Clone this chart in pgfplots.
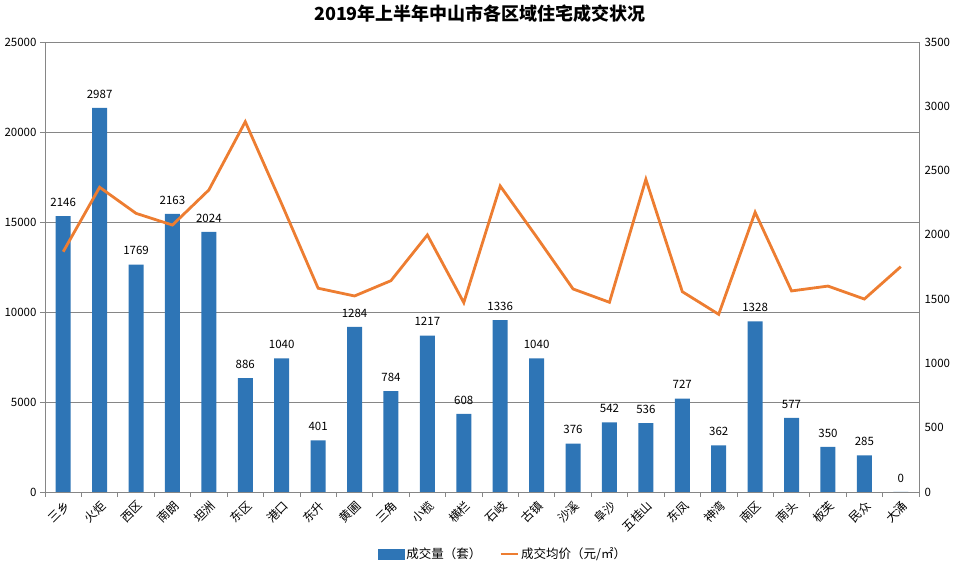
\documentclass[border=0pt]{standalone}
\usepackage{fontspec}
\setmainfont{Noto Sans CJK SC}
\usepackage{pgfplots}
\usepackage{pgfplotstable}
\pgfplotsset{compat=1.18}

\definecolor{barblue}{RGB}{46,117,182}
\definecolor{lineorange}{RGB}{237,125,49}
\definecolor{axisgray}{RGB}{134,134,134}

% 成交量（套）
\pgfplotstableread{
x n
0 2146
1 2987
2 1769
3 2163
4 2024
5 886
6 1040
7 401
8 1284
9 784
10 1217
11 608
12 1336
13 1040
14 376
15 542
16 536
17 727
18 362
19 1328
20 577
21 350
22 285
23 0
}\countdata

% 成交均价（元/㎡）
\pgfplotstableread{
x p
0 13350
1 16930
2 15480
3 14830
4 16780
5 20570
6 16000
7 11320
8 10890
9 11740
10 14280
11 10520
12 17000
13 14170
14 11280
15 10540
16 17370
17 11130
18 9870
19 15540
20 11170
21 11440
22 10720
23 12520
}\pricedata

\begin{document}
\begin{tikzpicture}
\useasboundingbox (0,0) rectangle (959pt,567pt);
\node[font=\fontsize{18}{20}\selectfont\bfseries] at (480pt,553pt) {2019年上半年中山市各区域住宅成交状况};

% bars, right axis
\begin{axis}[
    at={(45pt,75pt)}, anchor=south west,
    scale only axis, width=874pt, height=450pt,
    xmin=-0.5, xmax=23.5, ymin=0, ymax=3500,
    axis x line*=bottom, axis y line*=right,
    axis line style={axisgray, line width=0.8pt},
    xtick={0,...,23},
    xticklabels={三乡,火炬,西区,南朗,坦洲,东区,港口,东升,黄圃,三角,小榄,横栏,石岐,古镇,沙溪,阜沙,五桂山,东凤,神湾,南区,南头,板芙,民众,大涌},
    minor xtick={-0.5,0.5,...,23.5},
    major tick length=0pt, minor tick length=5pt,
    tick align=outside,
    tick style={axisgray, line width=0.8pt},
    x tick label style={font=\fontsize{12}{14}\selectfont, rotate=45, anchor=east, inner sep=0pt, yshift=-11pt, xshift=-5pt},
    ytick distance=500,
    y tick label style={font=\fontsize{11.5}{13}\selectfont, xshift=2pt},
    /pgf/number format/assume math mode=true,
    /pgf/number format/1000 sep={},
    scaled ticks=false,
    extra y ticks={700,1400,2100,2800,3500},
    extra y tick labels={},
    extra y tick style={grid=major, major grid style={axisgray, line width=0.8pt}},
    ybar, bar width=15pt,
    nodes near coords,
    nodes near coords style={font=\fontsize{11.5}{13}\selectfont, yshift=6pt},
    clip=false,
]
\addplot[fill=barblue, draw=none] table[x=x, y=n] {\countdata};
\end{axis}

% line, left axis
\begin{axis}[
    at={(45pt,75pt)}, anchor=south west,
    scale only axis, width=874pt, height=450pt,
    xmin=-0.5, xmax=23.5, ymin=0, ymax=25000,
    hide x axis,
    axis y line*=left,
    axis line style={axisgray, line width=0.8pt},
    ytick distance=5000,
    major tick length=5pt, tick align=outside,
    tick style={axisgray, line width=0.8pt},
    y tick label style={font=\fontsize{11.5}{13}\selectfont},
    /pgf/number format/assume math mode=true,
    /pgf/number format/1000 sep={},
    scaled ticks=false,
    legend style={at={(0.524,-0.138)}, anchor=center, draw=none, fill=none,
        font=\fontsize{12.5}{14}\selectfont, legend columns=2,
        /tikz/every even column/.append style={column sep=16pt}},
    legend cell align=left,
]
\addlegendimage{legend image code/.code={\fill[barblue] (0pt,-5pt) rectangle (26pt,5pt);}}
\addlegendentry{成交量（套）}
\addplot[lineorange, line width=2.8pt, mark=none, line join=miter] table[x=x, y=p] {\pricedata};
\addlegendentry{成交均价（元/㎡）}
\end{axis}
\end{tikzpicture}
\end{document}
